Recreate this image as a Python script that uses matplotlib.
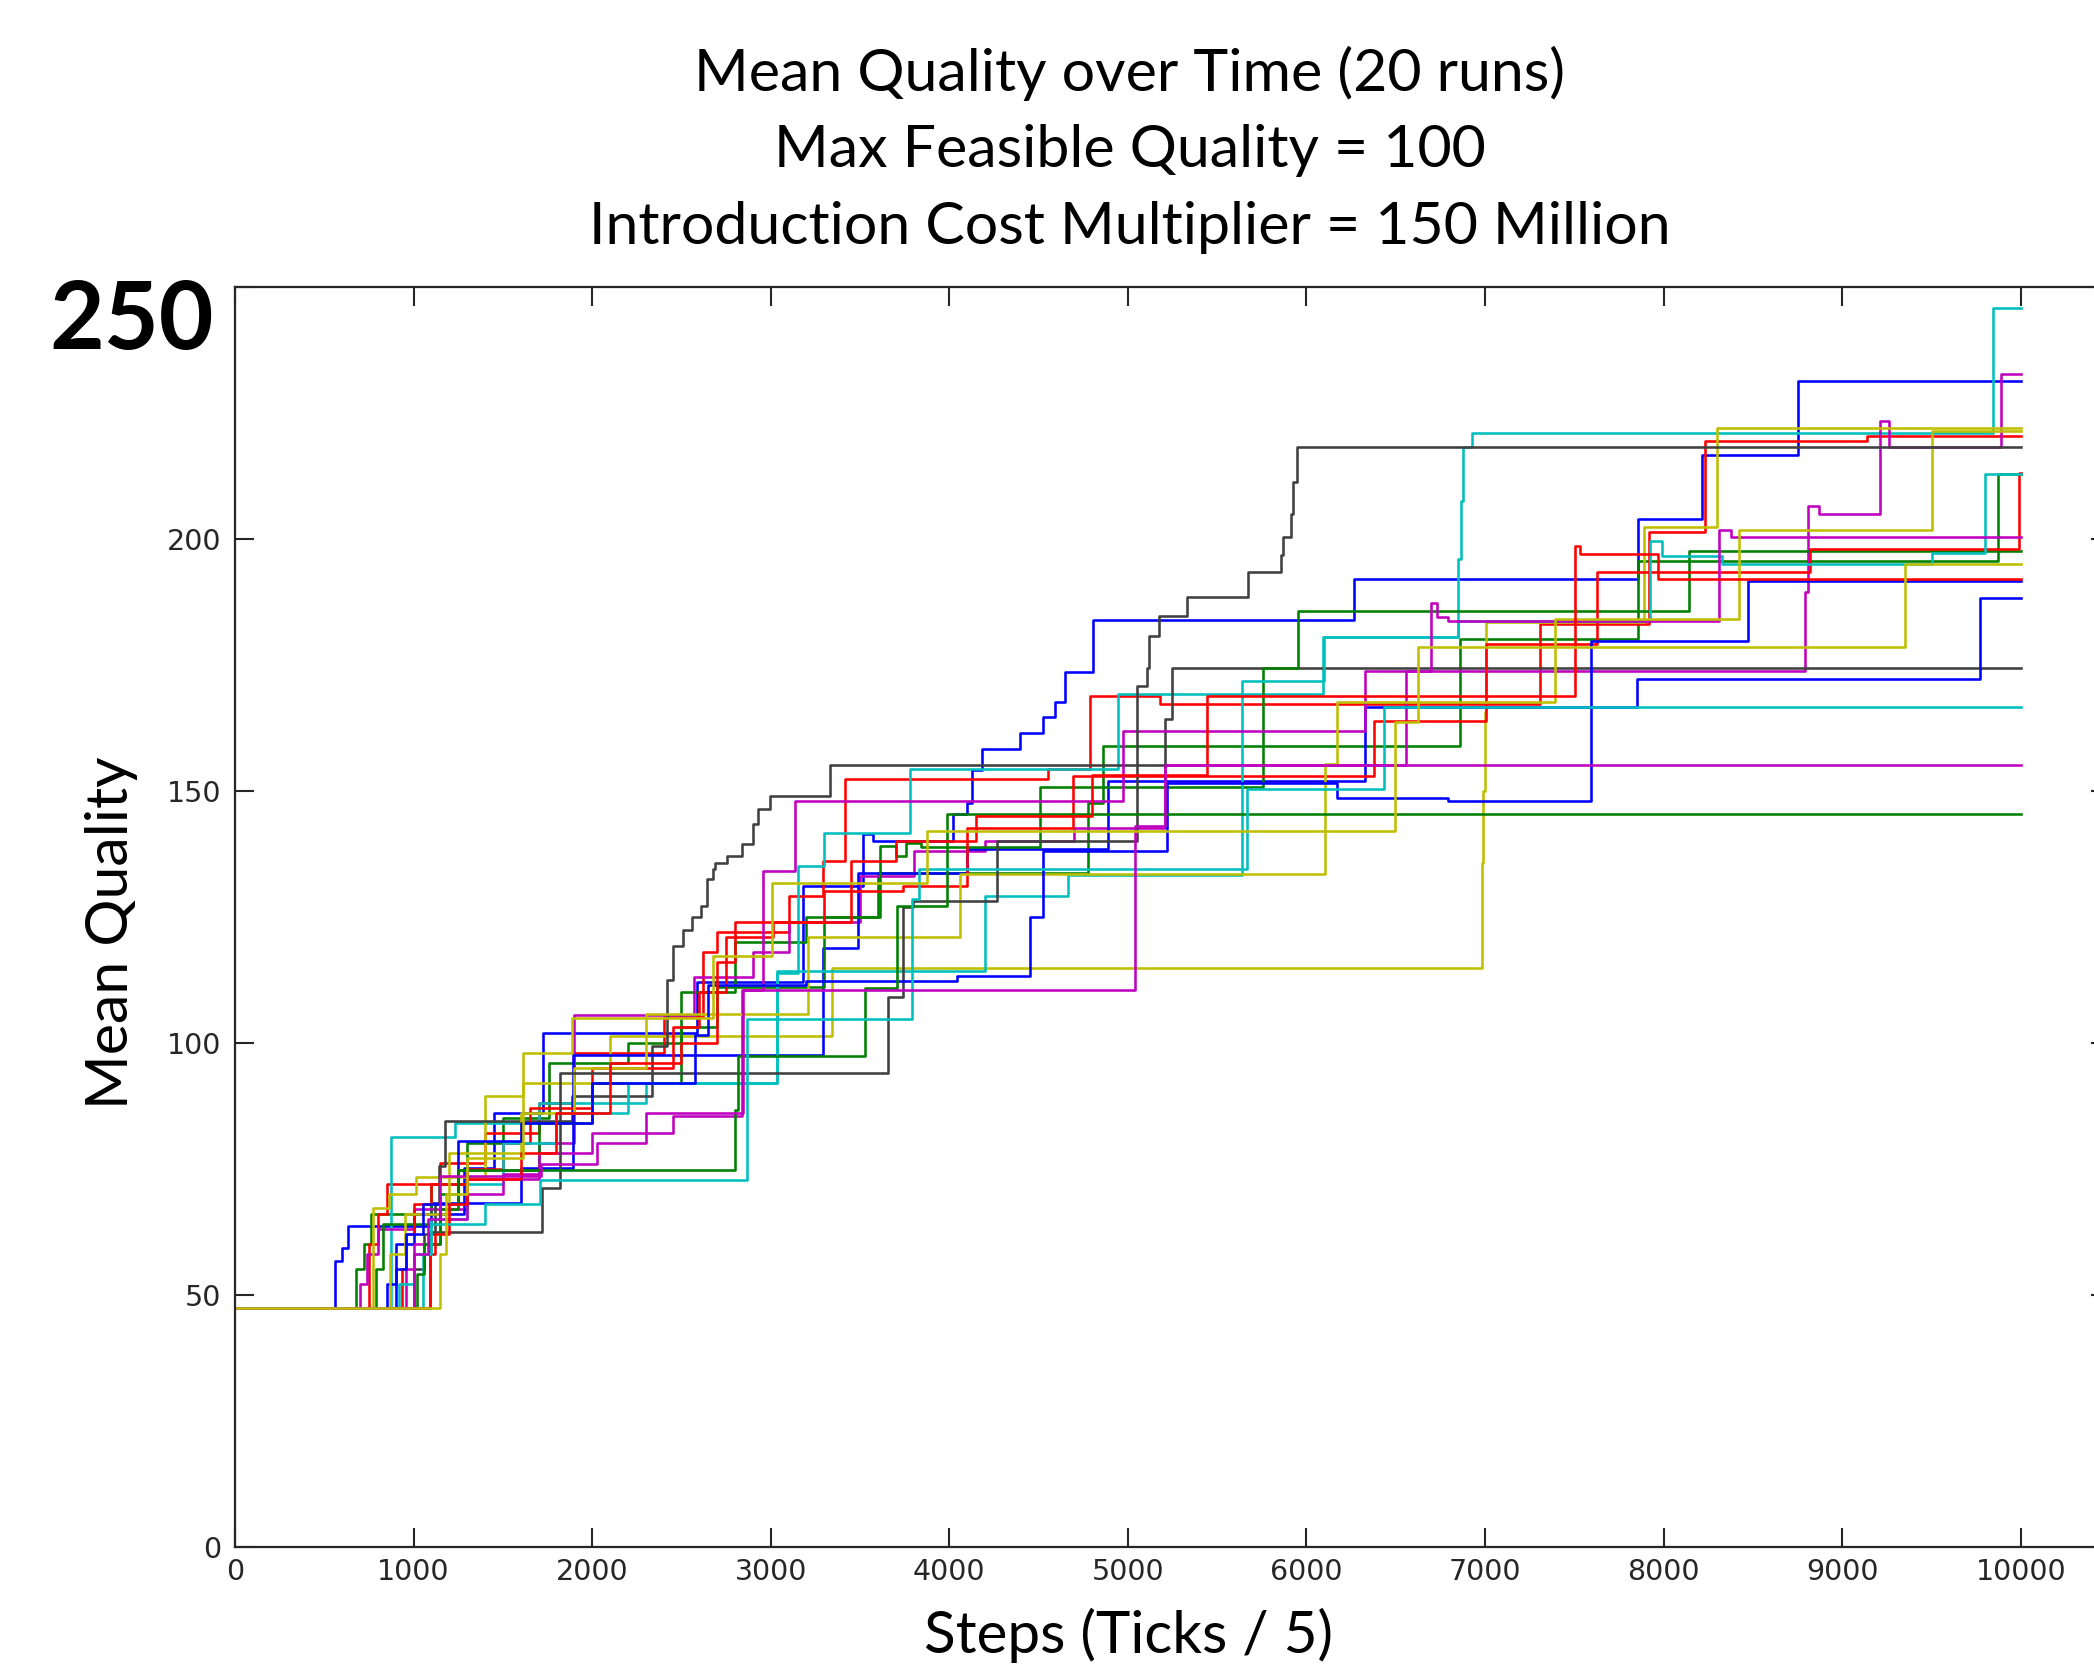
import matplotlib
matplotlib.use('Agg')
import matplotlib.pyplot as plt
from matplotlib import font_manager

# ---------------- data (step-run traces, x = step, y = mean quality) ----------------
B1_x = [0, 560, 600, 635, 1100, 1280, 1450, 1727, 2586, 3180, 3519, 3574, 4023, 4097, 4126, 4181, 4396, 4527, 4592, 4650, 4802, 6265, 7859, 8213, 8755, 10000]
B1_y = [47.3, 56.6, 59.2, 63.5, 68.2, 75.1, 86, 101.9, 112, 131, 141.3, 140, 145.3, 147.6, 154.1, 158.2, 161.5, 164.5, 167.5, 173.5, 183.8, 192, 203.9, 216.6, 231.2, 231.2]
G1_x = [0, 680, 720, 760, 1100, 1300, 1500, 1760, 2200, 2500, 2800, 3200, 3600, 4778, 4862, 6860, 7859, 9874, 10000]
G1_y = [47.3, 55, 60, 66, 72, 80, 85, 96, 100, 110, 120, 125, 133.7, 147.6, 158.9, 180, 195.6, 212.8, 212.8]
R1_x = [0, 750, 800, 850, 1150, 1400, 1700, 1900, 2400, 2620, 2700, 3100, 3295, 3416, 4555, 4788, 5180, 7308, 7918, 8232, 9137, 10000]
R1_y = [47.3, 60, 66, 72, 76, 82, 88, 98, 105, 118, 122, 129, 136, 152.2, 154.2, 168.8, 167.1, 183, 201.2, 219.4, 220.4, 220.4]
C1_x = [0, 875, 1230, 1700, 2300, 3034, 3155, 3300, 3779, 4946, 6094, 6851, 6865, 6878, 6925, 9847, 10000]
C1_y = [47.3, 81.3, 84, 88, 92, 113.8, 135, 141.6, 154.2, 169.1, 180.4, 195.9, 207.5, 218.2, 221, 245.7, 245.7]
M1_x = [0, 700, 740, 800, 1000, 1300, 1700, 1900, 2570, 2900, 3100, 3500, 3800, 4200, 4700, 5208, 6558, 8790, 8810, 8870, 9212, 9260, 9887, 10000]
M1_y = [47.3, 52, 58, 63, 67, 73, 80, 105.4, 113, 118, 124, 133, 138, 140, 142.5, 155.1, 173.7, 189.3, 206.5, 204.9, 223.4, 218.2, 232.7, 232.7]
YA_x = [0, 775, 860, 1013, 1400, 1615, 2100, 3341, 6981, 6990, 6998, 7005, 7890, 8300, 10000]
YA_y = [47.3, 67.2, 70, 73.4, 89.3, 92, 101.3, 114.8, 135.7, 149.9, 165.5, 183.4, 202.2, 221.9, 221.9]
K1_x = [0, 1000, 1060, 1120, 1140, 1176, 1885, 2336, 2420, 2450, 2510, 2560, 2610, 2641, 2678, 2688, 2753, 2837, 2903, 2930, 2996, 3332, 5208, 5245, 10000]
K1_y = [47.3, 55, 62, 68, 75.4, 84.4, 89.3, 99.3, 112.5, 119.1, 122.4, 125, 127, 132.4, 134.4, 135.7, 137, 139.3, 143.3, 146.3, 148.9, 155.1, 164.2, 174.3, 174.3]
B2_x = [0, 850, 900, 1000, 1280, 1600, 1895, 3295, 3491, 4100, 4891, 6328, 7849, 9772, 10000]
B2_y = [47.3, 52, 60, 66, 68.2, 75.1, 97.6, 118.8, 133.7, 138.3, 151.9, 166.5, 172.2, 188.2, 188.2]
G2_x = [0, 790, 830, 1150, 1250, 1700, 2000, 2500, 2700, 3300, 3612, 3700, 3760, 3840, 4508, 5754, 5951, 8144, 10000]
G2_y = [47.3, 55, 64, 70, 74.8, 84, 92, 103, 111, 125, 139, 137, 139.5, 138.7, 150.6, 174.4, 185.7, 197.6, 197.6]
R2_x = [0, 935, 960, 1000, 1100, 1300, 1500, 1650, 2000, 2450, 2600, 2750, 3010, 3300, 3740, 4100, 4693, 6378, 7005, 7625, 8820, 9990, 10000]
R2_y = [47.3, 55, 62, 68, 72, 75, 80, 87, 95, 103, 110, 121, 124, 130, 131, 142.6, 152.9, 163.8, 179, 193.4, 197.9, 213, 213]
C2_x = [0, 1050, 1100, 1300, 1500, 1800, 2200, 3034, 4200, 4667, 5640, 6100, 6851, 7924, 7990, 8325, 9501, 9800, 10000]
C2_y = [47.3, 58, 65, 72, 80, 86, 92, 114.2, 129.1, 133.2, 171.7, 180.4, 183.7, 199.6, 196.6, 194.9, 197.1, 212.8, 212.8]
M2_x = [0, 960, 1000, 1150, 1300, 1500, 1700, 2000, 2450, 2837, 2958, 3136, 4975, 6326, 6700, 6730, 6790, 8308, 8380, 10000]
M2_y = [47.3, 55, 60, 65, 70, 74, 78, 82, 85.4, 110.5, 134, 147.9, 161.8, 173.7, 187.3, 184.5, 183.7, 201.6, 200.2, 200.2]
YB_x = [0, 870, 950, 1200, 1600, 1900, 2300, 3211, 4060, 6104, 6170, 7392, 8420, 9505, 10000]
YB_y = [47.3, 58, 66, 78, 86, 95, 105.6, 121, 133.4, 155.2, 167.5, 184, 201.7, 221.4, 221.4]
K2_x = [0, 1092, 1717, 1820, 3659, 3739, 3797, 4265, 5049, 5105, 5120, 5176, 5333, 5675, 5858, 5866, 5912, 5927, 5946, 10000]
K2_y = [47.3, 62.5, 71.1, 94, 109, 126.8, 128, 140, 170.8, 174.4, 180.6, 184.6, 188.3, 193.4, 196.7, 200.2, 204.9, 211.2, 218.2, 218.2]
B3_x = [0, 900, 960, 1050, 1250, 1600, 2000, 2575, 2650, 3200, 4042, 4452, 4526, 5217, 6169, 6795, 7592, 8474, 10000]
B3_y = [47.3, 55, 62, 68, 80.4, 84, 92, 101.5, 111.5, 112.2, 113.2, 125, 138, 151.5, 148.5, 147.9, 179.7, 191.6, 191.6]
G3_x = [0, 1020, 1060, 1150, 1250, 2801, 2817, 3528, 3705, 3985, 10000]
G3_y = [47.3, 54, 60, 67, 74.8, 86.7, 97.3, 110.9, 127.1, 145.3, 145.3]
R3_x = [0, 1090, 1120, 1200, 1300, 1600, 1800, 2100, 2500, 2700, 2800, 3450, 3700, 4150, 4800, 5441, 7504, 7530, 7971, 10000]
R3_y = [47.3, 58, 62, 68, 73, 78, 86, 96, 100, 116, 124, 136, 140, 145, 153, 168.8, 198.6, 196.9, 192, 192]
C3_x = [0, 920, 1000, 1100, 1400, 1708, 2866, 3789, 3830, 5665, 6433, 10000]
C3_y = [47.3, 52, 58, 64, 68, 72.8, 104.6, 128.4, 134.4, 150.2, 166.5, 166.5]
M3_x = [0, 1000, 1080, 1150, 1713, 2026, 2300, 2846, 5040, 5208, 10000]
M3_y = [47.3, 58, 65, 73.6, 75.8, 80, 86, 110.5, 143, 155.1, 155.1]
YC_x = [0, 1148, 1180, 1300, 1615, 1885, 2679, 3006, 3874, 6496, 6627, 9352, 10000]
YC_y = [47.3, 58, 70, 77, 98, 104.9, 117.1, 131.7, 142, 163.5, 178.4, 194.9, 194.9]

x_ticks = [0, 1000, 2000, 3000, 4000, 5000, 6000, 7000, 8000, 9000, 10000]
y_ticks = [0, 50, 100, 150, 200, 250]
y_tick_labels = ['0', '50', '100', '150', '200', '']

title_lines = ['Mean Quality over Time (20 runs)',
               'Max Feasible Quality = 100',
               'Introduction Cost Multiplier = 150 Million']
x_label = 'Steps (Ticks / 5)'
y_label = 'Mean Quality'
top_label = '250'

# ---------------- styling ----------------
avail = {f.name for f in font_manager.fontManager.ttflist}
tick_font = 'Liberation Sans Narrow' if 'Liberation Sans Narrow' in avail else 'DejaVu Sans'
tick_size = 26 if tick_font == 'Liberation Sans Narrow' else 20.5
text_font = 'Lato' if 'Lato' in avail else 'DejaVu Sans'

mc = {'b': (0, 0, 1), 'g': (0, 0.5, 0), 'r': (1, 0, 0), 'c': (0, 0.75, 0.75),
      'm': (0.75, 0, 0.75), 'y': (0.75, 0.75, 0), 'k': (0.25, 0.25, 0.25)}

runs = [(B1_x, B1_y, 'b'), (G1_x, G1_y, 'g'), (R1_x, R1_y, 'r'), (C1_x, C1_y, 'c'),
        (M1_x, M1_y, 'm'), (YA_x, YA_y, 'y'), (K1_x, K1_y, 'k'),
        (B2_x, B2_y, 'b'), (G2_x, G2_y, 'g'), (R2_x, R2_y, 'r'), (C2_x, C2_y, 'c'),
        (M2_x, M2_y, 'm'), (YB_x, YB_y, 'y'), (K2_x, K2_y, 'k'),
        (B3_x, B3_y, 'b'), (G3_x, G3_y, 'g'), (R3_x, R3_y, 'r'), (C3_x, C3_y, 'c'),
        (M3_x, M3_y, 'm'), (YC_x, YC_y, 'y')]

W, H = 2094, 1668
fig = plt.figure(figsize=(W / 100, H / 100), dpi=100)
fig.patch.set_facecolor('white')

ax_left, ax_bottom = 235 / W, (H - 1546.5) / H
ax_w = (2110 - 235) / W
ax_h = (1546.5 - 286.5) / H
ax = fig.add_axes([ax_left, ax_bottom, ax_w, ax_h])

for x, y, c in runs:
    ax.step(x, y, where='post', color=mc[c], lw=1.85)

ax.set_xlim(0, 10500)
ax.set_ylim(0, 250)
ax.set_xticks(x_ticks)
ax.set_xticklabels([str(v) for v in x_ticks])
ax.set_yticks(y_ticks)
ax.set_yticklabels(y_tick_labels)

spine_col = (0.15, 0.15, 0.15)
for s in ax.spines.values():
    s.set_linewidth(1.6)
    s.set_color(spine_col)
ax.tick_params(axis='both', which='major', direction='in', length=13.5, width=1.5,
               top=True, right=True, colors=spine_col, labelcolor=spine_col,
               labelsize=tick_size)
ax.tick_params(axis='x', pad=8)
ax.tick_params(axis='y', pad=10)
for lab in ax.get_xticklabels() + ax.get_yticklabels():
    lab.set_fontfamily(tick_font)

# titles
title_baselines = [90.7, 166.7, 244.3]
for txt, yb in zip(title_lines, title_baselines):
    fig.text(1130 / W, 1 - yb / H, txt, ha='center', va='baseline',
             fontsize=42.5, family=text_font, color='black')

fig.text(1128 / W, 1 - 1653 / H, x_label, ha='center', va='baseline',
         fontsize=42, family=text_font, color='black')
fig.text(111 / W, 1 - 933 / H, y_label, ha='center', va='center', rotation=90,
         fontsize=42.5, family=text_font, color='black')
fig.text(131.5 / W, 1 - 349.3 / H, top_label, ha='center', va='baseline',
         fontsize=68, family=text_font, fontweight='bold', color='black')

fig.savefig('out.png', dpi=100, facecolor='white')
